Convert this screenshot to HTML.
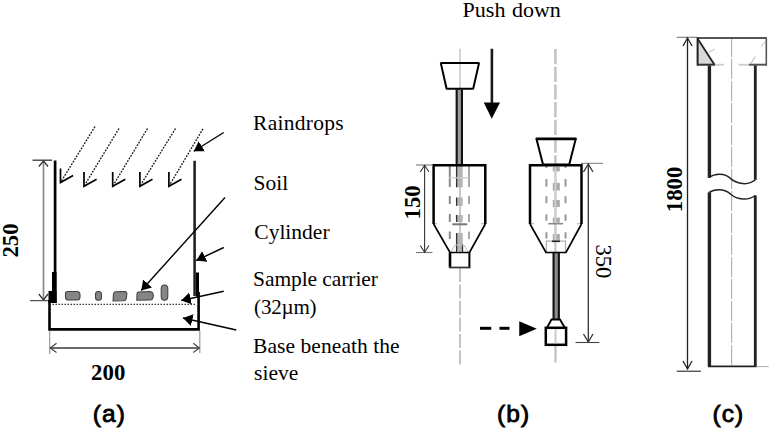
<!DOCTYPE html>
<html><head><meta charset="utf-8">
<style>
html,body{margin:0;padding:0;background:#fff;width:771px;height:433px;overflow:hidden}
svg{display:block}
.t{font-family:"Liberation Serif",serif;font-size:21.5px;fill:#000;}
.tb{font-family:"Liberation Serif",serif;font-size:22.8px;font-weight:bold;fill:#000}
.lab{font-family:"Liberation Sans",sans-serif;font-size:24.5px;font-weight:normal;fill:#000;stroke:#000;stroke-width:0.85px}
</style></head>
<body>
<svg width="771" height="433" viewBox="0 0 771 433">
<defs>
  <marker id="fa" viewBox="0 -6.5 9.5 13" refX="9.5" refY="0" markerWidth="9.5" markerHeight="13" markerUnits="userSpaceOnUse" orient="auto">
    <path d="M0,-6 L9.5,0 L0,6 z" fill="#000"/>
  </marker>
</defs>

<!-- ============ PANEL A ============ -->
<!-- dimension 250 -->
<line x1="43.5" y1="161" x2="43.5" y2="300" stroke="#ccc" stroke-width="2.6"/>
<line x1="43.5" y1="161" x2="43.5" y2="300" stroke="#888" stroke-width="1"/>
<g stroke="#333" stroke-width="1.3" fill="none">
  <line x1="32.5" y1="160.2" x2="52" y2="160.2"/>
  <line x1="30" y1="300.6" x2="49" y2="300.6" stroke="#555"/>
  <polyline points="38.8,166.5 43.5,161 48,166.5"/>
  <polyline points="38.8,294 43.5,300 48,294"/>
</g>
<text class="tb" transform="translate(18,240.5) rotate(-90)" text-anchor="middle">250</text>

<!-- cylinder walls -->
<line x1="55.1" y1="160.5" x2="55.1" y2="303" stroke="#000" stroke-width="2.7"/>
<rect x="52" y="272" width="4.5" height="31" fill="#000"/>
<rect x="48.5" y="291" width="8" height="12" fill="#000"/>
<line x1="194.6" y1="160.8" x2="194.6" y2="296" stroke="#222" stroke-width="2.6"/>
<rect x="196" y="272.5" width="3" height="24" fill="#000"/>
<!-- base -->
<polyline points="49.5,300 49.5,329.4 198.6,329.4 198.6,292" fill="none" stroke="#000" stroke-width="2.6"/>
<!-- dotted sieve -->
<line x1="52.5" y1="304.3" x2="196" y2="304.3" stroke="#333" stroke-width="1.2" stroke-dasharray="1.5 1.5"/>

<!-- soil blobs -->
<g fill="#858585" stroke="#444" stroke-width="1.1">
  <path d="M67,291.5 L77,291.5 Q80,291.5 80,295 L80,297 Q80,300 77,300 L68,300 Q65.5,300 65.5,297 L65.5,294 Q65.5,291.5 67,291.5 z"/>
  <rect x="95.5" y="291.5" width="6" height="8.7" rx="2.5" ry="3"/>
  <path d="M115,291.8 L125,291.5 Q127,291.8 126.8,294 L126.3,298.5 Q126,300.5 123,300.8 L113,301 L113.5,294 Q114,291.8 115,291.8 z"/>
  <path d="M138,292 L150,291.5 Q153.5,292 153.3,296 Q153,300 150,300 L136.8,300.2 L137,294 Q137,292 138,292 z"/>
  <rect x="161.2" y="285" width="6.6" height="15.2" rx="3" ry="4"/>
</g>

<!-- raindrops -->
<g stroke="#1a1a1a" stroke-width="1.35" fill="none" stroke-dasharray="1.8 1.3">
  <line x1="95" y1="126.5" x2="61.7" y2="180.6"/>
  <line x1="119" y1="128.5" x2="85.2" y2="184.2"/>
  <line x1="147.5" y1="128.5" x2="113.9" y2="184.2"/>
  <line x1="175.5" y1="128.5" x2="141.1" y2="184.2"/>
  <line x1="203" y1="128.8" x2="170.1" y2="184.2"/>
</g>
<g stroke="#000" stroke-width="1.7" fill="none" stroke-linejoin="miter">
  <polyline points="60.5,168.4 60.5,182.6 73.1,175.6"/>
  <polyline points="84,172.0 84,186.2 96.6,179.2"/>
  <polyline points="112.7,172.0 112.7,186.2 125.3,179.2"/>
  <polyline points="139.9,172.0 139.9,186.2 152.5,179.2"/>
  <polyline points="168.9,172.0 168.9,186.2 181.5,179.2"/>
</g>

<!-- label arrows -->
<g stroke="#000" stroke-width="1.4" marker-end="url(#fa)">
  <line x1="223.75" y1="132.5" x2="193.75" y2="151.25"/>
  <line x1="225" y1="197.5" x2="141.25" y2="290.5"/>
  <line x1="223.75" y1="247.5" x2="196.25" y2="260.5"/>
  <line x1="223.75" y1="291.25" x2="181.25" y2="300.5"/>
  <line x1="236.25" y1="330" x2="183" y2="318"/>
</g>

<!-- dimension 200 -->
<g stroke="#999" stroke-width="1.2" fill="none">
  <line x1="49.7" y1="331" x2="49.7" y2="354"/>
  <line x1="199.8" y1="331" x2="199.8" y2="353"/>
</g>
<g stroke="#6a6a6a" stroke-width="1.9" fill="none">
  <line x1="50" y1="348" x2="199.5" y2="348"/>
</g>
<g stroke="#444" stroke-width="1.2" fill="none">
  <polyline points="56.5,343.2 50.3,348 56.5,352.5"/>
  <polyline points="193.3,343.2 199.3,348 193.3,352.5"/>
</g>
<text class="tb" x="108.2" y="379.5" text-anchor="middle">200</text>
<text class="lab" transform="translate(109.3,421.5) scale(1,1)" text-anchor="middle" letter-spacing="1.1">(a)</text>

<!-- labels -->
<text class="t" x="253.1" y="130" letter-spacing="0.27">Raindrops</text>
<text class="t" x="253.5" y="189.6">Soil</text>
<text class="t" x="254.3" y="238.7">Cylinder</text>
<text class="t" x="253.1" y="285.5" letter-spacing="-0.085">Sample carrier</text>
<text class="t" x="254.1" y="313.8" style="font-size:21px" letter-spacing="-0.2">(32µm)</text>
<text class="t" x="253.1" y="353" letter-spacing="0.06">Base beneath the</text>
<text class="t" x="254.1" y="380">sieve</text>

<!-- ============ PANEL B ============ -->
<text class="t" x="462.6" y="16.6" style="font-size:22px" word-spacing="1">Push down</text>
<line x1="491.9" y1="48.75" x2="491.9" y2="105" stroke="#1a1a1a" stroke-width="2.6"/>
<path d="M483.75,102.5 L500,102.5 L491.75,118.75 z" fill="#000"/>

<!-- center lines -->
<line x1="460" y1="48.75" x2="460" y2="90" stroke="#aaa" stroke-width="1"/>
<line x1="460" y1="268" x2="460" y2="364.5" stroke="#aaa" stroke-width="1.4" stroke-dasharray="14 2.5"/>
<line x1="555.4" y1="49" x2="555.4" y2="165" stroke="#c4c4c4" stroke-width="2.6" stroke-dasharray="15.2 2.5"/>
<line x1="555.4" y1="165" x2="555.4" y2="252" stroke="#c8c8c8" stroke-width="2.2"/>
<line x1="555.5" y1="346" x2="555.5" y2="362.5" stroke="#bbb" stroke-width="2"/>
<line x1="555.5" y1="328" x2="555.5" y2="344" stroke="#ccc" stroke-width="1.5"/>

<!-- left assembly -->
<!-- rod above body -->
<rect x="455.6" y="89.5" width="7.4" height="75.5" fill="#111"/>
<line x1="459.3" y1="89.5" x2="459.3" y2="165" stroke="#9a9a9a" stroke-width="3.2"/>
<!-- inner details -->
<line x1="460" y1="166" x2="460" y2="252" stroke="#c4c4c4" stroke-width="1.8"/>
<g stroke="#8a8a8a" stroke-width="2">
  <line x1="449.8" y1="166" x2="449.8" y2="187"/>
  <line x1="449.8" y1="196" x2="449.8" y2="204"/>
  <line x1="449.8" y1="214" x2="449.8" y2="222"/>
  <line x1="449.8" y1="231.5" x2="449.8" y2="239"/>
</g>
<g stroke="#a8a8a8" stroke-width="2">
  <line x1="469" y1="166" x2="469" y2="187"/>
  <line x1="469" y1="196" x2="469" y2="204"/>
  <line x1="469" y1="214" x2="469" y2="222"/>
  <line x1="469" y1="231.5" x2="469" y2="239"/>
</g>
<g fill="#b4b4b4">
  <rect x="456.4" y="166" width="6.3" height="21.3"/>
  <rect x="456.4" y="197.5" width="6.3" height="8.3"/>
  <rect x="456.4" y="215" width="6.3" height="7"/>
  <rect x="456.4" y="233" width="6.3" height="18"/>
</g>
<g stroke="#333" stroke-width="1.3">
  <line x1="456.6" y1="166" x2="456.6" y2="187.3"/>
  <line x1="456.6" y1="197.5" x2="456.6" y2="205.8"/>
  <line x1="456.6" y1="215" x2="456.6" y2="222"/>
  <line x1="456.6" y1="233" x2="456.6" y2="252"/>
  <line x1="462.5" y1="244" x2="462.5" y2="252"/>
</g>
<line x1="449" y1="177.8" x2="469" y2="177.8" stroke="#ccc" stroke-width="1.3"/>
<line x1="452.3" y1="224.3" x2="467.3" y2="224.3" stroke="#777" stroke-width="2"/>
<line x1="434" y1="223.7" x2="437" y2="223.7" stroke="#bbb" stroke-width="1.3"/>
<line x1="481" y1="223.7" x2="485" y2="223.7" stroke="#bbb" stroke-width="1.3"/>
<path d="M451,252 L455,245 L464,245 L468,252" fill="none" stroke="#ccc" stroke-width="1.2"/>
<g fill="none" stroke="#000" stroke-width="2">
  <path d="M440.8,63.1 L479,63.1 L473.2,88.7 L446.6,88.7 z" stroke-width="2" stroke-linejoin="bevel"/>
  <path d="M433.6,224 L433.6,165.2 L485.3,165.2 L485.3,224" stroke-width="2.5"/>
  <path d="M433.6,224 L450,252.5 L469.5,252.5 L485.3,224" stroke-width="1.7"/>
  <line x1="450" y1="252.5" x2="450" y2="267.5" stroke-width="2.6"/>
  <line x1="469.4" y1="252.5" x2="469.4" y2="267.5" stroke-width="2"/>
  <line x1="449" y1="267.5" x2="470.4" y2="267.5" stroke-width="1.7" stroke="#333"/>
</g>

<!-- dim 150 -->
<g stroke="#333" stroke-width="1.1" fill="none">
  <line x1="424.6" y1="165" x2="424.6" y2="252.5"/>
  <line x1="416" y1="165" x2="433" y2="165" stroke="#777"/>
  <line x1="416" y1="252.5" x2="432.5" y2="252.5" stroke="#777"/>
  <polyline points="420.3,172 424.6,165.3 429,172"/>
  <polyline points="420.3,245.5 424.6,252.2 429,245.5"/>
</g>
<text class="tb" transform="translate(419.5,202.4) rotate(-90)" text-anchor="middle">150</text>
<!-- dashed arrow -->
<g stroke="#000" stroke-width="3">
  <line x1="480" y1="328.3" x2="491.25" y2="328.3"/>
  <line x1="499.5" y1="328.3" x2="509.5" y2="328.3"/>
</g>
<path d="M519.25,321.25 L536.75,328.75 L519.25,336.25 z" fill="#000"/>

<!-- right assembly -->
<g stroke="#999" stroke-width="2">
  <line x1="546.4" y1="165" x2="546.4" y2="168"/>
  <line x1="546.4" y1="179" x2="546.4" y2="186.7"/>
  <line x1="546.4" y1="196.2" x2="546.4" y2="203.2"/>
  <line x1="546.4" y1="214.4" x2="546.4" y2="220.8"/>
  <line x1="546.4" y1="232.2" x2="546.4" y2="238.6"/>
  <line x1="565.5" y1="165" x2="565.5" y2="168"/>
  <line x1="565.5" y1="179" x2="565.5" y2="186.7"/>
  <line x1="565.5" y1="196.2" x2="565.5" y2="203.2"/>
  <line x1="565.5" y1="214.4" x2="565.5" y2="220.8"/>
  <line x1="565.5" y1="232.2" x2="565.5" y2="238.6"/>
</g>
<g fill="#aaa">
  <rect x="552.8" y="167" width="7" height="4.4"/>
  <rect x="552.8" y="182.9" width="7" height="7.6"/>
  <rect x="552.8" y="200" width="7" height="7"/>
  <rect x="552.8" y="217.6" width="7" height="5.1"/>
  <rect x="552.8" y="234" width="7" height="6.5"/>
</g>
<line x1="555.4" y1="165" x2="555.4" y2="252" stroke="#d0d0d0" stroke-width="2"/>
<line x1="548.3" y1="223.7" x2="563" y2="223.7" stroke="#888" stroke-width="1.6"/>
<line x1="531" y1="223.7" x2="534" y2="223.7" stroke="#bbb" stroke-width="1.3"/>
<line x1="577" y1="223.7" x2="581" y2="223.7" stroke="#bbb" stroke-width="1.3"/>
<rect x="546.4" y="241.1" width="19.1" height="11.4" fill="none" stroke="#aaa" stroke-width="1.2"/>
<line x1="552" y1="241.3" x2="560" y2="241.3" stroke="#222" stroke-width="1.6"/>
<!-- rod below -->
<rect x="552.5" y="252.5" width="7.4" height="67" fill="#111"/>
<line x1="556.2" y1="252.5" x2="556.2" y2="319.5" stroke="#8c8c8c" stroke-width="3.2"/>
<g fill="none" stroke="#000" stroke-width="2">
  <path d="M536.5,138.9 L575.7,138.9 L569.25,164.5 L543,164.5 z" stroke-width="2"/>
  <line x1="536" y1="138.9" x2="576.2" y2="138.9" stroke-width="2.6"/>
  <path d="M530,224 L530,165.2 L581.5,165.2 L581.5,224" stroke-width="2.5"/>
  <path d="M530,224 L546,252.5 L566,252.5 L581.5,224" stroke-width="1.7"/>
  <path d="M547,327.8 L551.5,319.5 L560,319.5 L564.8,327.8" stroke-width="1.8"/>
  <rect x="545.8" y="327.8" width="20.3" height="17" stroke-width="2.5"/>
</g>
<line x1="555.5" y1="329" x2="555.5" y2="343.5" stroke="#ccc" stroke-width="1.8"/>
<!-- dim 350 -->
<g stroke="#333" stroke-width="1.3" fill="none">
  <line x1="588.3" y1="164" x2="588.3" y2="342.5"/>
  <line x1="581" y1="163.3" x2="603" y2="163.3" stroke="#777" stroke-width="1"/>
  <line x1="575.5" y1="342.5" x2="599.25" y2="342.5" stroke="#444" stroke-width="1.1"/>
  <polyline points="583.5,172 588.3,164 593,172"/>
  <polyline points="583.5,334 588.3,342 593,334"/>
</g>
<text class="t" transform="translate(596,261.3) rotate(90)" text-anchor="middle" style="font-size:22.5px">350</text>
<text class="lab" transform="translate(513.6,421.5) scale(1,1)" text-anchor="middle" letter-spacing="1.1">(b)</text>

<!-- ============ PANEL C ============ -->
<g stroke="#222" stroke-width="1.3" fill="none">
  <line x1="676.75" y1="37.3" x2="697" y2="37.3" stroke="#777" stroke-width="1.1"/>
  <line x1="687.5" y1="37.5" x2="687.5" y2="369"/>
  <line x1="676.75" y1="371.25" x2="701" y2="371.25" stroke="#444"/>
  <polyline points="683,46 687.5,38 692,46"/>
  <polyline points="683,361 687.5,369 692,361"/>
</g>
<line x1="731.6" y1="37" x2="731.6" y2="366" stroke="#b0b0b0" stroke-width="1.1" stroke-dasharray="20 2"/>
<path d="M697.5,38.5 L697.5,64.7 L714.5,64.7 z" fill="#d8d8d8" stroke="none"/>
<g fill="none">
  <line x1="697" y1="38.1" x2="766.9" y2="38.1" stroke="#555" stroke-width="2"/>
  <line x1="697.6" y1="37.5" x2="697.6" y2="65.5" stroke="#222" stroke-width="2"/>
  <line x1="766.3" y1="38" x2="766.3" y2="65.5" stroke="#555" stroke-width="1.6"/>
  <line x1="697.5" y1="38.5" x2="714.5" y2="64.7" stroke="#222" stroke-width="1.8"/>
  <line x1="697" y1="64.7" x2="715" y2="64.7" stroke="#333" stroke-width="2"/>
  <line x1="715" y1="64.7" x2="724" y2="64.7" stroke="#ccc" stroke-width="1.8"/>
  <line x1="738.6" y1="64.7" x2="749" y2="64.7" stroke="#ccc" stroke-width="1.8"/>
  <line x1="749" y1="64.7" x2="766.8" y2="64.7" stroke="#555" stroke-width="2"/>
  <line x1="708.5" y1="52.5" x2="714.9" y2="49" stroke="#bbb" stroke-width="1"/>
  <line x1="761" y1="46.8" x2="765.7" y2="41" stroke="#bbb" stroke-width="1"/>
  <line x1="750.7" y1="63.5" x2="755.3" y2="56.6" stroke="#aaa" stroke-width="1"/>
</g>
<g stroke="#222" fill="none">
  <line x1="709.4" y1="65.5" x2="709.4" y2="177.8" stroke-width="3.4"/>
  <line x1="709.4" y1="192.4" x2="709.4" y2="366.25" stroke-width="3.4"/>
  <line x1="755.3" y1="65.5" x2="755.3" y2="179.8" stroke-width="2.8"/>
  <line x1="755.3" y1="195.5" x2="755.3" y2="366.25" stroke-width="2.8"/>
  <path d="M708.8,177.5 C714,174 724,172 731,178.9 C737,184 748,186 755.4,179.8" stroke-width="1.5"/>
  <path d="M708.8,192.7 C714,189 724,188 731,194.5 C737,199.5 748,201 755.4,195.5" stroke-width="1.5"/>
  <line x1="708" y1="366.3" x2="757" y2="366.3" stroke-width="1.8"/>
</g>
<line x1="756" y1="366.6" x2="768.8" y2="366.6" stroke="#aaa" stroke-width="1"/>
<text class="tb" transform="translate(682,189.4) rotate(-90)" text-anchor="middle">1800</text>
<text class="lab" transform="translate(728.4,421.5) scale(1,1)" text-anchor="middle" letter-spacing="1.1">(c)</text>
</svg>
</body></html>
